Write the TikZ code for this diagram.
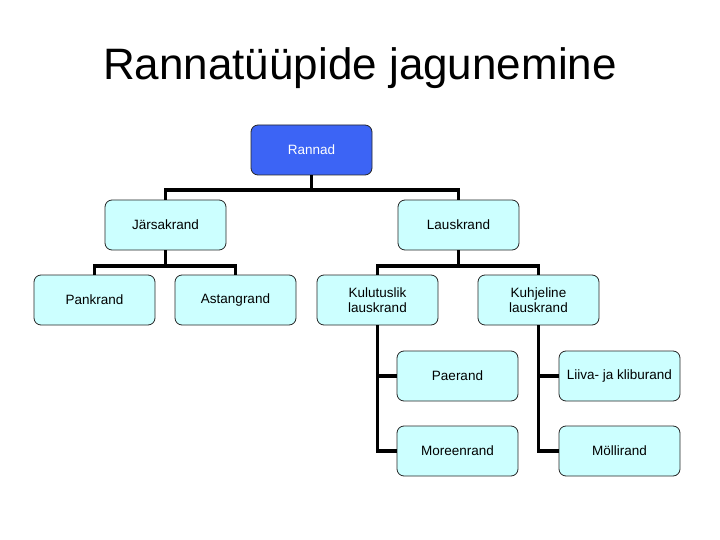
\documentclass[tikz,border=0pt]{standalone}
\usepackage{fontspec}
\setmainfont{Liberation Sans}
\begin{document}
\begin{tikzpicture}[x=1pt,y=-1pt,
  box/.style={draw=black!85, line width=0.8pt, rounded corners=7pt, fill={rgb,255:red,204;green,255;blue,255},
    minimum width=121pt, minimum height=50pt, inner sep=1pt, align=center,
    font=\fontsize{13.5}{15}\selectfont},
  rootbox/.style={box, fill={rgb,255:red,60;green,100;blue,245}, text=white},
  conn/.style={line width=3.5pt, black}]
\useasboundingbox (0,0) rectangle (720,540);
\node[font=\fontsize{44}{50}\selectfont] (title) at (360,68) {Rannatüüpide jagunemine};

\node[rootbox] (rannad) at (311.5,150) {Rannad};
\node[box] (jars) at (165.5,225) {Järsakrand};
\node[box] (laus) at (458.5,225) {Lauskrand};
\node[box] (pank) at (94.5,300) {Pankrand};
\node[box] (ast) at (235.5,300) {Astangrand};
\node[box] (kul) at (377.5,300) {Kulutuslik\\lauskrand};
\node[box] (kuh) at (538.5,300) {Kuhjeline\\lauskrand};
\node[box] (pae) at (457.5,376) {Paerand};
\node[box] (mor) at (457.5,451) {Moreenrand};
\node[box] (liiva) at (619.5,376) {Liiva- ja kliburand};
\node[box] (moll) at (619.5,451) {Möllirand};

\draw[conn] (rannad.south) |- (165.5,190) -| (jars.north);
\draw[conn] (rannad.south) |- (458.5,190) -| (laus.north);
\draw[conn] (jars.south) |- (94.5,266) -| (pank.north);
\draw[conn] (jars.south) |- (235.5,266) -| (ast.north);
\draw[conn] (laus.south) |- (377.5,266) -| (kul.north);
\draw[conn] (laus.south) |- (538.5,266) -| (kuh.north);
\draw[conn] (kul.south) |- (pae.west);
\draw[conn] (kul.south) |- (mor.west);
\draw[conn] (kuh.south) |- (liiva.west);
\draw[conn] (kuh.south) |- (moll.west);
\end{tikzpicture}
\end{document}
